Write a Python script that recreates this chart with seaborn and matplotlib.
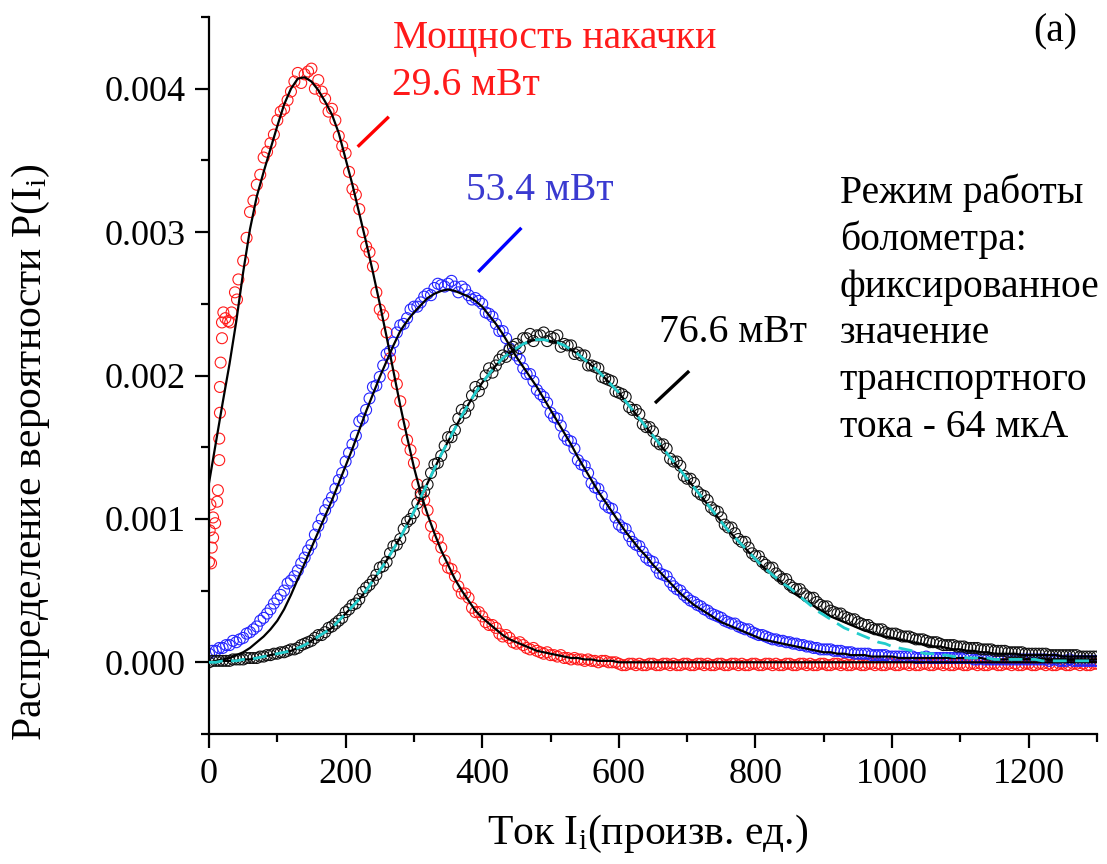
import numpy as np
import pandas as pd
import matplotlib
matplotlib.use("Agg")
import matplotlib.pyplot as plt
from matplotlib.ticker import MultipleLocator, FormatStrFormatter
import seaborn as sns

# ---------------- data (P values in units of 1e-5) ----------------
x_grid = np.arange(0, 1301, 10)
x_half = np.arange(5, 1300, 10)

# 29.6 mW : early dense points near x=0, then sampled data
red_early_x = [0, 1, 2, 3, 4, 6, 6, 9, 12, 13, 15, 15, 16, 16, 17, 19, 19, 21, 24, 28, 31, 33, 38, 41, 43]
red_early_y = [70, 92, 110, 69, 80, 87, 101, 97, 112, 120, 141, 156, 174, 192, 209, 226, 237, 244, 240, 238, 237, 244, 258, 253, 267]
red_x = np.arange(50, 1301, 10)
red_data = [280, 314, 333, 352, 362, 378, 386, 398, 411, 410,
            414, 406, 393, 386, 367, 355, 330, 316, 290, 276,
            246, 230, 200, 182, 155, 139, 116, 106, 88, 80,
            66, 60, 48, 45, 35, 32, 26, 24, 18, 17,
            13, 12, 9, 8, 6, 5, 4, 3, 2, 2,
            1, 1, 0, 1, 0,
            -1, -2, -1, -1, -2, -1, -2, -1, -1, -2,
            -1, -2, -1, -1, -2, -1, -2, -1, -1, -2,
            -1, -2, -1, -1, -2, -1, -2, -1, -1, -2,
            -1, -2, -1, -1, -2, -1, -2, -1, -1, -2,
            -1, -2, -1, -1, -2, -1, -2, -1, -1, -2,
            -1, -2, -1, -1, -2, -1, -2, -1, -1, -2,
            -1, -2, -1, -1, -2, -1, -2, -1, -1, -2, -1]
red_x2 = np.arange(55, 1300, 10)
red_data2 = [296, 322, 340, 356, 368, 384, 392, 405, 404, 412,
             400, 398, 384, 378, 360, 342, 326, 300, 286, 258,
             242, 212, 194, 166, 148, 124, 113, 95, 86, 71,
             65, 53, 48, 38, 35, 28, 26, 20, 19, 14,
             14, 10, 10, 7, 7, 5, 5, 3, 3, 2,
             2, 1, 1, 0, 0,
             -2, -1, -2, -2, -1, -2, -1, -2, -2, -1,
             -2, -1, -2, -2, -1, -2, -1, -2, -2, -1,
             -2, -1, -2, -2, -1, -2, -1, -2, -2, -1,
             -2, -1, -2, -2, -1, -2, -1, -2, -2, -1,
             -2, -1, -2, -2, -1, -2, -1, -2, -2, -1,
             -2, -1, -2, -2, -1, -2, -1, -2, -2, -1,
             -2, -1, -2, -2, -1, -2, -1, -2, -2, -1]
red_fit = [125, 153, 181, 208, 238, 272, 302, 325, 342, 358,
           374, 389, 400, 407, 408, 405, 399, 391, 382, 369,
           351, 333, 313, 293, 272, 250, 227, 203, 179, 157,
           136, 118, 103, 90, 78, 68, 58, 50, 43, 36,
           31, 27, 23, 19, 16, 14, 12, 10, 8, 7,
           6, 5, 4, 3, 3, 2, 2, 1, 1, 1] + [0] * 71

# 53.4 mW
blue_data = [6, 8, 10, 12, 14, 17, 21, 25, 31, 37,
             44, 50, 57, 64, 73, 82, 95, 106, 115, 127,
             140, 152, 168, 176, 192, 199, 215, 223, 235, 240,
             248, 251, 257, 261, 263, 264, 262, 262, 256, 254,
             250, 243, 236, 231, 219, 214, 205, 201, 190, 185,
             174, 170, 158, 154, 141, 137, 125, 121, 110, 107,
             96, 93, 84, 81, 73, 70, 62, 60, 53, 50,
             45, 42, 39, 36, 33, 31, 28, 27, 24, 23,
             20, 19, 17, 16, 15, 14, 13, 12, 11, 10,
             9, 9, 8, 7, 7, 6, 6, 5, 5, 5,
             4, 4, 4, 4, 3, 4, 3, 3, 3, 3,
             3, 3, 2, 3, 2, 2, 2, 2, 2, 2,
             2, 2, 2, 1, 2, 1, 2, 1, 1, 1, 1]
blue_data2 = [8, 10, 12, 15, 16, 20, 23, 29, 34, 41,
              47, 55, 60, 69, 78, 89, 100, 111, 121, 132,
              146, 158, 170, 184, 193, 207, 217, 230, 236, 246,
              248, 255, 256, 264, 262, 266, 258, 260, 253, 252,
              244, 241, 231, 226, 216, 211, 201, 196, 187, 181,
              171, 165, 155, 149, 138, 132, 122, 116, 108, 101,
              94, 88, 82, 77, 71, 66, 61, 56, 51, 47,
              43, 40, 37, 34, 32, 29, 27, 25, 23, 21,
              19, 18, 16, 15, 14, 13, 12, 11, 10, 9,
              9, 8, 8, 7, 6, 6, 6, 5, 5, 4,
              4, 4, 4, 3, 3, 3, 3, 3, 3, 3,
              3, 3, 2, 2, 2, 2, 2, 2, 2, 2,
              2, 2, 2, 2, 1, 1, 1, 1, 1, 1]
blue_fit = [0, 1, 2, 3, 5, 7, 10, 14, 18, 23,
            29, 37, 47, 58, 69, 80, 91, 102, 113, 125,
            137, 149, 162, 175, 187, 199, 210, 221, 231, 238,
            244, 249, 254, 257, 259, 260, 259, 257, 255, 252,
            248, 242, 236, 229, 221, 213, 206, 199, 192, 184,
            176, 168, 160, 152, 143, 135, 127, 119, 112, 105,
            98, 91, 85, 79, 74, 68, 63, 58, 53, 48,
            44, 40, 37, 34, 31, 28, 26, 24, 22, 20,
            18, 16, 15, 14, 13, 12, 11, 10, 9, 8,
            7, 7, 6, 6, 5, 5, 5, 4, 4, 4,
            4, 3, 3, 3, 3, 3, 3, 3, 3, 3,
            3, 3, 3, 3, 2, 2, 2, 2, 2, 2,
            2, 2, 2, 2, 2, 2, 2, 2, 2, 2, 2]

# 76.6 mW
black_data = [0, 1, 1, 1, 2, 2, 3, 3, 4, 5,
              6, 7, 9, 10, 13, 15, 19, 21, 25, 29,
              35, 40, 44, 52, 57, 66, 70, 81, 86, 98,
              104, 118, 124, 138, 144, 157, 162, 176, 179, 192,
              194, 205, 207, 214, 218, 222, 226, 229, 228, 230,
              227, 228, 222, 221, 216, 214, 207, 205, 198, 196,
              188, 185, 176, 173, 164, 161, 152, 149, 140, 137,
              128, 125, 117, 113, 106, 101, 94, 90, 84, 80,
              74, 70, 66, 62, 58, 54, 51, 48, 45, 42,
              39, 36, 34, 32, 30, 28, 26, 24, 23, 21,
              20, 19, 18, 17, 16, 15, 14, 13, 12, 12,
              11, 10, 10, 9, 9, 8, 8, 7, 7, 7,
              6, 6, 6, 5, 5, 5, 5, 5, 4, 4, 4]
black_data2 = [1, 1, 1, 2, 2, 3, 3, 4, 5, 6,
               7, 8, 9, 12, 14, 17, 19, 24, 27, 31,
               37, 41, 49, 54, 61, 67, 76, 82, 93, 100,
               111, 119, 132, 139, 151, 157, 170, 174, 186, 189,
               200, 202, 211, 213, 220, 219, 226, 224, 228, 224,
               226, 220, 221, 215, 214, 207, 206, 199, 197, 189,
               187, 178, 176, 166, 164, 154, 152, 142, 140, 130,
               128, 119, 116, 108, 105, 96, 94, 86, 84, 76,
               74, 68, 66, 60, 58, 52, 51, 46, 45, 40,
               39, 35, 34, 31, 30, 27, 26, 23, 23, 20,
               20, 18, 18, 16, 16, 14, 14, 12, 12, 11,
               11, 10, 10, 9, 9, 8, 8, 7, 7, 6,
               6, 6, 6, 5, 5, 5, 5, 4, 4, 4]
black_fit = [0, 0, 1, 1, 1, 2, 2, 3, 4, 5,
             6, 7, 8, 10, 12, 15, 18, 21, 24, 29,
             34, 39, 44, 50, 57, 64, 71, 79, 87, 96,
             105, 115, 125, 135, 145, 154, 163, 172, 180, 188,
             195, 201, 207, 212, 216, 219, 222, 224, 225, 225,
             224, 223, 221, 218, 215, 211, 207, 203, 198, 193,
             188, 182, 176, 170, 164, 158, 152, 146, 140, 134,
             128, 122, 116, 110, 104, 98, 92, 87, 82, 77,
             72, 67, 63, 59, 55, 51, 47, 44, 41, 38,
             35, 32, 30, 28, 26, 24, 22, 21, 19, 18,
             17, 16, 15, 14, 13, 12, 11, 11, 10, 9,
             9, 8, 8, 7, 7, 6, 6, 6, 6, 5,
             5, 5, 5, 5, 5, 4, 4, 4, 4, 4, 4]
cyan_fit = [0, 0, 1, 1, 1, 2, 2, 3, 4, 5,
            6, 7, 8, 10, 12, 15, 18, 21, 24, 29,
            34, 39, 44, 50, 57, 64, 71, 79, 87, 96,
            105, 115, 125, 135, 145, 154, 163, 172, 180, 188,
            195, 201, 207, 212, 216, 219, 222, 224, 225, 225,
            224, 223, 221, 218, 215, 211, 207, 203, 198, 193,
            188, 182, 176, 170, 164, 158, 152, 146, 140, 134,
            128, 122, 116, 110, 104, 98, 92, 87, 82, 77,
            72, 67, 63, 59, 55, 52, 48, 44, 40, 36,
            33, 30, 27, 24, 22, 20, 18, 16, 14, 13,
            11, 10, 9, 8, 7, 6, 6, 5, 5, 4,
            4, 3, 3, 3, 3, 2, 2, 2, 2, 2,
            2, 2, 1, 1, 1, 1, 1, 1, 1, 1, 1]

SCALE = 1e-5

# ---------------- style ----------------
sns.set_theme(style="ticks")
plt.rcParams["font.family"] = ["Liberation Serif", "DejaVu Serif"]
plt.rcParams["mathtext.fontset"] = "custom"
plt.rcParams["mathtext.rm"] = "Liberation Serif"
plt.rcParams["mathtext.it"] = "Liberation Serif:italic"
for key in ("text.color", "axes.labelcolor", "xtick.color", "ytick.color", "axes.edgecolor"):
    plt.rcParams[key] = "black"
FS_TICK = 26
FS_ANN = 28.5
FS_LAB = 30

fig = plt.figure(figsize=(11.07, 8.64), dpi=100)
W, H = 1107, 864
ax = fig.add_axes([209 / W, 1 - 734 / H, (1097 - 209) / W, (734 - 17) / H])

RED, BLUE, BLACK = "#ff1a1a", "#2424ff", "#111111"
msize = 62
lw_m = 0.8

df_red = pd.DataFrame({"x": np.concatenate([red_early_x, red_x, red_x2]),
                       "y": np.concatenate([red_early_y, red_data, red_data2]) * SCALE})
df_blue = pd.DataFrame({"x": np.concatenate([x_grid, x_half]),
                        "y": np.concatenate([blue_data, blue_data2]) * SCALE})
df_black = pd.DataFrame({"x": np.concatenate([x_grid, x_half]),
                         "y": np.concatenate([black_data, black_data2]) * SCALE})

sns.scatterplot(data=df_red, x="x", y="y", ax=ax, marker="o", s=msize,
                facecolor="none", edgecolor=RED, linewidth=lw_m, zorder=2)
sns.scatterplot(data=df_blue, x="x", y="y", ax=ax, marker="o", s=msize,
                facecolor="none", edgecolor=BLUE, linewidth=lw_m, zorder=2)
sns.scatterplot(data=df_black, x="x", y="y", ax=ax, marker="o", s=msize,
                facecolor="none", edgecolor=BLACK, linewidth=lw_m, zorder=2)

for fit in (red_fit, blue_fit, black_fit):
    sns.lineplot(x=x_grid, y=np.array(fit) * SCALE, ax=ax, color="black",
                 linewidth=1.6, sort=False, estimator=None, zorder=3)
sns.lineplot(x=x_grid, y=np.array(cyan_fit) * SCALE, ax=ax, color="#22cccc",
             linewidth=2.0, linestyle=(0, (5, 3)), sort=False, estimator=None, zorder=4)

# ---------------- axes ----------------
ax.set_xlim(0, 1300)
ax.set_ylim(-0.0005, 0.0045)
ax.xaxis.set_major_locator(MultipleLocator(200))
ax.xaxis.set_minor_locator(MultipleLocator(100))
ax.set_yticks([0.0, 0.001, 0.002, 0.003, 0.004])
ax.yaxis.set_minor_locator(MultipleLocator(0.0005))
ax.yaxis.set_major_formatter(FormatStrFormatter("%.3f"))
for s in ("top", "right"):
    ax.spines[s].set_visible(False)
for s in ("left", "bottom"):
    ax.spines[s].set_linewidth(1.6)
    ax.spines[s].set_color("black")
ax.tick_params(which="major", direction="out", length=10, width=1.6,
               labelsize=FS_TICK, pad=7, colors="black")
ax.tick_params(which="minor", direction="out", length=6, width=1.6, colors="black")
ax.set_xlabel("")
ax.set_ylabel("")
ax.grid(False)

fig.text(648 / W, 1 - 834 / H, "Ток I$_\\mathregular{i}$(произв. ед.)",
         fontsize=FS_LAB, ha="center", va="center", color="black")
fig.text(31 / W, 1 - 452 / H, "Распределение вероятности P(I$_\\mathregular{i}$)",
         fontsize=FS_LAB, ha="center", va="center", rotation=90, color="black")

# ---------------- annotations ----------------
def dx(px):
    return (px - 209) / 0.68


def dy(py):
    return (662 - py) / 143250.0


ax.text(dx(392), dy(48), "Мощность накачки", color=RED, fontsize=FS_ANN, va="baseline")
ax.text(dx(391), dy(95), "29.6 мВт", color=RED, fontsize=FS_ANN, va="baseline")
ax.text(dx(465), dy(200), "53.4 мВт", color="#3a3ad0", fontsize=FS_ANN, va="baseline")
ax.text(dx(657), dy(342), "76.6 мВт", color="black", fontsize=FS_ANN, va="baseline")
ax.text(dx(1030), dy(42), "(a)", color="black", fontsize=FS_ANN, va="baseline")

mode_lines = ["Режим работы", "болометра:", "фиксированное", "значение",
              "транспортного", "тока - 64 мкА"]
for i, line in enumerate(mode_lines):
    ax.text(dx(837), dy(203 + 46.8 * i), line, color="black", fontsize=FS_ANN, va="baseline")

ax.plot([dx(357), dx(388)], [dy(147), dy(117)], color="#ff0000", lw=2.4, solid_capstyle="butt")
ax.plot([dx(477), dx(520)], [dy(272), dy(228)], color="#0000ff", lw=2.4, solid_capstyle="butt")
ax.plot([dx(653), dx(687)], [dy(403), dy(371)], color="black", lw=2.4, solid_capstyle="butt")

fig.savefig("out.png", dpi=100)
